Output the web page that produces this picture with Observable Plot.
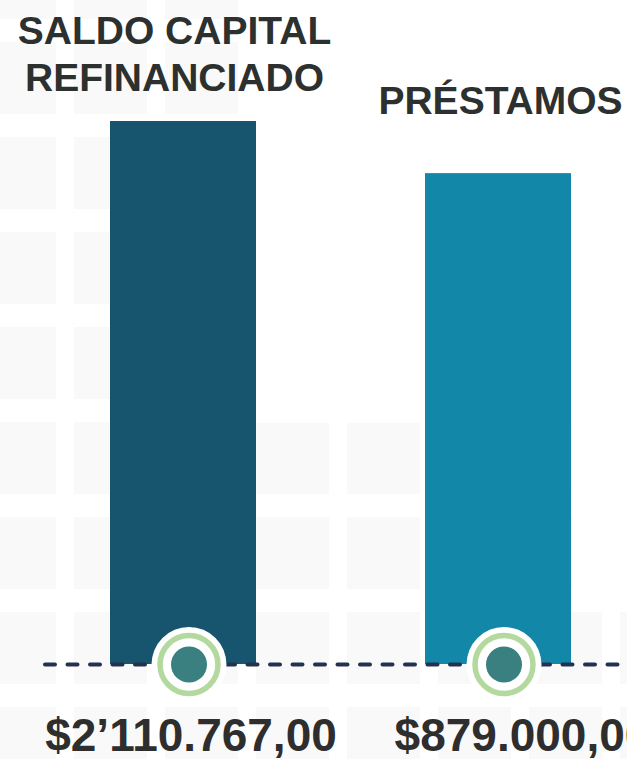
<!DOCTYPE html>
<html>
<head>
<meta charset="utf-8">
<script src="https://cdn.jsdelivr.net/npm/d3@7"></script>
<script src="https://cdn.jsdelivr.net/npm/@observablehq/plot@0.6"></script>
<style>
  html, body { margin: 0; padding: 0; background: #ffffff; overflow: hidden; }
  #wrap { position: relative; width: 627px; height: 759px; overflow: hidden; }
  .bg { position: absolute; background-image: url("data:image/svg+xml,%3Csvg xmlns='http://www.w3.org/2000/svg' width='91' height='95'%3E%3Crect width='73' height='72' fill='%23f9f9f9'/%3E%3C/svg%3E"); background-repeat: repeat; }
  #chart { position: absolute; left: 0; top: 0; }
</style>
</head>
<body>
<div id="wrap">
  <div class="bg" style="left:0;top:0;width:256px;height:759px;background-position:-17px -53px;"></div>
  <div class="bg" style="left:256px;top:423px;width:316px;height:336px;background-position:0px -1px;"></div>
  <div class="bg" style="left:256px;top:612px;width:371px;height:147px;background-position:0px 0px;"></div>
  <div id="chart"></div>
</div>
<script>
// ---- data ----
const categories = ["SALDO CAPITAL\nREFINANCIADO", "PRÉSTAMOS"];
const amounts = [2110767, 879000];
const amountLabels = ["$2’110.767,00", "$879.000,00"];
// bar heights as drawn in the infographic (relative, first bar = 100)
const barHeights = [100, 90.4];
const barColors = ["#17546e", "#1387a8"];

const data = categories.map((c, i) => ({
  category: c,
  amount: amounts[i],
  label: amountLabels[i],
  height: barHeights[i],
  color: barColors[i]
}));

const font = "'Liberation Sans', Arial, Helvetica, sans-serif";

const chart = Plot.plot({
  width: 627,
  height: 759,
  margin: 0,
  style: {background: "transparent", overflow: "visible", fontFamily: font},
  x: {type: "band", domain: categories, range: [-1, 682], paddingInner: 0.538, paddingOuter: 0.35, axis: null},
  y: {domain: [0, 100], range: [664, 121], axis: null},
  marks: [
    Plot.barY(data, {x: "category", y: "height", fill: "color"}),
    Plot.ruleY([0], {stroke: "#243250", strokeWidth: 4, strokeDasharray: "10,12.5", strokeLinecap: "round", insetLeft: 45}),
    Plot.dot(data, {x: "category", y: 0, r: 37.5, fill: "#ffffff", dx: 5.5}),
    Plot.dot(data, {x: "category", y: 0, r: 29, fill: "none", stroke: "#b3d99f", strokeWidth: 5.5, dx: 5.5}),
    Plot.dot(data, {x: "category", y: 0, r: 18, fill: "#3a8080", dx: 5.5}),
    // titles
    Plot.text(data.slice(0, 1), {x: "category", y: "height", text: "category", lineAnchor: "bottom", lineHeight: 1.18, dy: -31, dx: -9, fontSize: 39, fontWeight: "bold", fill: "#2c302f"}),
    Plot.text(data.slice(1, 2), {x: "category", y: "height", text: "category", lineAnchor: "bottom", dy: -60, dx: 2, fontSize: 39, fontWeight: "bold", fill: "#2c302f"}),
    // amounts
    Plot.text(data.slice(0, 1), {x: "category", text: "label", frameAnchor: "bottom", lineAnchor: "bottom", dy: -9, dx: 7.5, fontSize: 46, fontWeight: "bold", fill: "#2e2e2e"}),
    Plot.text(data.slice(1, 2), {x: "category", text: "label", frameAnchor: "bottom", lineAnchor: "bottom", dy: -9, dx: 24, fontSize: 46, fontWeight: "bold", fill: "#2e2e2e"})
  ]
});
document.getElementById("chart").appendChild(chart);
</script>
</body>
</html>
